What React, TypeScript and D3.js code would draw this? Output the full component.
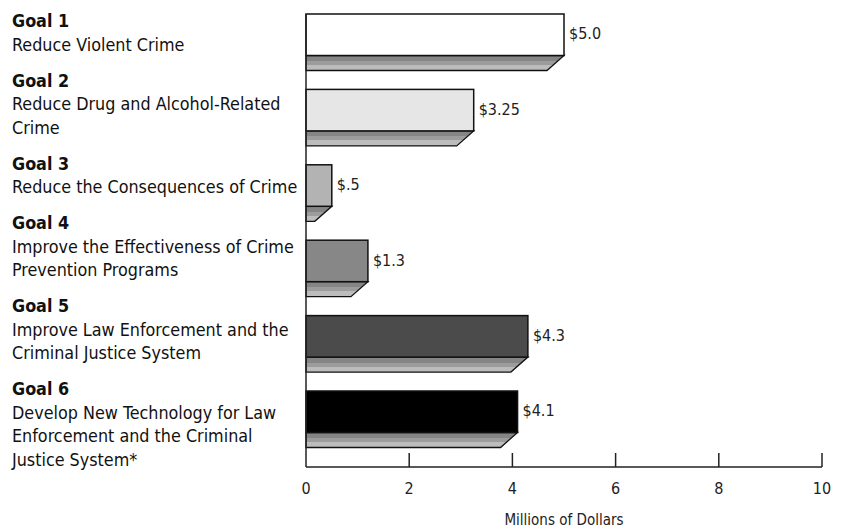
import { scaleBand, scaleLinear } from "d3";

const W = 841;
const H = 529;
const M = { top: 14, left: 306, right: 19, axisY: 467 };

const goalTitles = ["Goal 1", "Goal 2", "Goal 3", "Goal 4", "Goal 5", "Goal 6"];
const goalLines = [
  ["Reduce Violent Crime"],
  ["Reduce Drug and Alcohol-Related", "Crime"],
  ["Reduce the Consequences of Crime"],
  ["Improve the Effectiveness of Crime", "Prevention Programs"],
  ["Improve Law Enforcement and the", "Criminal Justice System"],
  ["Develop New Technology for Law", "Enforcement and the Criminal", "Justice System*"],
];
// bar lengths as drawn (goal 4 is drawn a little short of its $1.3 label)
const values = [5.0, 3.25, 0.5, 1.2, 4.3, 4.1];
const valueLabels = ["$5.0", "$3.25", "$.5", "$1.3", "$4.3", "$4.1"];
const fills = ["#ffffff", "#e6e6e6", "#b3b3b3", "#878787", "#4b4b4b", "#000000"];
const xTicks = [0, 2, 4, 6, 8, 10];

const FONT = "'Liberation Sans Narrow', 'Arial Narrow', 'DejaVu Sans Condensed', sans-serif";
const FACE = 41.5; // front face height
const DEPTH = 15; // floor depth under each bar
const SLANT = 17;
const LH = 23.5; // line height in the goal labels
const GAP = 36; // extra step between goal blocks

export default function App() {
  const x = scaleLinear().domain([0, 10]).range([M.left, W - M.right]);
  const step = 75.4;
  const y = scaleBand<string>()
    .domain(goalTitles)
    .range([M.top, M.top + step * goalTitles.length - (step - FACE)])
    .paddingInner(1 - FACE / step)
    .paddingOuter(0);

  // goal labels flow down the left side
  let base = 27;
  const blocks = goalTitles.map((t, i) => {
    const b = { title: t, y: base, lines: goalLines[i] };
    base += LH * (goalLines[i].length + 1) + GAP - LH;
    return b;
  });

  return (
    <svg
      width={W}
      height={H}
      style={{ position: "absolute", left: 0, top: 0, background: "#fff" }}
      fontFamily={FONT}
    >
      <defs>
        <linearGradient id="floor" x1="0" y1="0" x2="0" y2="1">
          <stop offset="0" stopColor="#858585" />
          <stop offset="0.36" stopColor="#858585" />
          <stop offset="0.36" stopColor="#9c9c9c" />
          <stop offset="0.64" stopColor="#9c9c9c" />
          <stop offset="0.64" stopColor="#bcbcbc" />
          <stop offset="1" stopColor="#bcbcbc" />
        </linearGradient>
      </defs>

      {blocks.map((b) => (
        <g key={b.title} fill="#111" fontSize={17.8}>
          <text x={12} y={b.y} fontWeight="bold">
            {b.title}
          </text>
          {b.lines.map((l, j) => (
            <text key={l} x={12} y={b.y + LH * (j + 1)}>
              {l}
            </text>
          ))}
        </g>
      ))}

      {goalTitles.map((g, i) => {
        const y0 = y(g) ?? 0;
        const xv = x(values[i]);
        const yb = y0 + FACE;
        const floor = `M${x(0)},${yb} L${xv},${yb} L${xv - SLANT},${yb + DEPTH} L${x(0)},${yb + DEPTH} Z`;
        return (
          <g key={g}>
            <path d={floor} fill="url(#floor)" stroke="#111" strokeWidth={1.3} />
            <rect
              x={x(0)}
              y={y0}
              width={xv - x(0)}
              height={FACE}
              fill={fills[i]}
              stroke="#111"
              strokeWidth={1.5}
            />
            <text x={xv + 5} y={y0 + FACE / 2 - 1} dy="0.35em" fontSize={16} fill="#222">
              {valueLabels[i]}
            </text>
          </g>
        );
      })}

      {/* axes */}
      <line x1={x(0)} x2={x(0)} y1={M.top} y2={M.axisY} stroke="#222" strokeWidth={1.5} />
      <line x1={x(0)} x2={x(10)} y1={M.axisY} y2={M.axisY} stroke="#222" strokeWidth={1.5} />
      {xTicks.map((t) => (
        <g key={t}>
          {t > 0 && (
            <line x1={x(t)} x2={x(t)} y1={M.axisY - 14} y2={M.axisY} stroke="#222" strokeWidth={1.5} />
          )}
          <text x={x(t)} y={488} dy="0.35em" textAnchor="middle" fontSize={16} fill="#222">
            {t}
          </text>
        </g>
      ))}
      <text x={(x(0) + x(10)) / 2} y={520} dy="0.35em" textAnchor="middle" fontSize={15} fill="#222">
        Millions of Dollars
      </text>
    </svg>
  );
}
